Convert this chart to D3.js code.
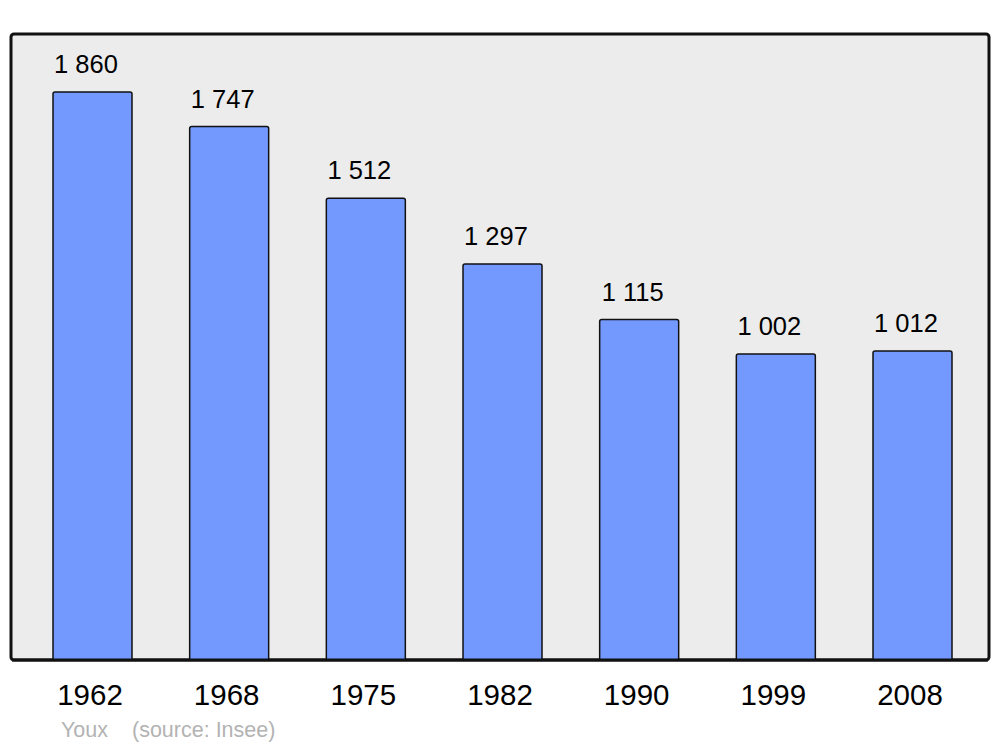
<!DOCTYPE html>
<html>
<head>
<meta charset="utf-8">
<script src="https://cdn.jsdelivr.net/npm/d3@7"></script>
<style>
  body { margin: 0; background: #fff; }
  svg text { font-family: "Liberation Sans", Arial, sans-serif; }
</style>
</head>
<body>
<div id="chart"></div>
<script>
  const years = ['1962', '1968', '1975', '1982', '1990', '1999', '2008']
  const population = [1860, 1747, 1512, 1297, 1115, 1002, 1012]
  const valueLabels = ['1 860', '1 747', '1 512', '1 297', '1 115', '1 002', '1 012']

  const width = 1000
  const height = 747
  // plot frame
  const frame = { left: 11, right: 989, top: 34, bottom: 660 }

  const svg = d3.select('#chart')
    .append('svg')
    .attr('width', width)
    .attr('height', height)

  svg.append('rect')
    .attr('x', frame.left)
    .attr('y', frame.top)
    .attr('width', frame.right - frame.left)
    .attr('height', frame.bottom - frame.top)
    .attr('rx', 3)
    .attr('fill', '#ececec')
    .attr('stroke', '#111')
    .attr('stroke-width', 3)

  const xScale = d3.scaleBand()
    .domain(years)
    .range([53, 952])
    .paddingInner(0.422)
    .paddingOuter(0)

  const yScale = d3.scaleLinear()
    .domain([0, 2050])
    .range([frame.bottom, frame.top])

  const rows = years.map((y, i) => ({ year: y, value: population[i], label: valueLabels[i] }))

  // bars with slightly rounded top corners
  svg.selectAll('path.bar')
    .data(rows)
    .enter().append('path')
    .attr('class', 'bar')
    .attr('d', d => {
      const x0 = xScale(d.year), x1 = x0 + xScale.bandwidth()
      const y0 = yScale(d.value), y1 = yScale(0), r = 2
      return `M${x0},${y1} L${x0},${y0 + r} Q${x0},${y0} ${x0 + r},${y0} L${x1 - r},${y0} Q${x1},${y0} ${x1},${y0 + r} L${x1},${y1}`
    })
    .attr('fill', '#7399ff')
    .attr('stroke', '#111')
    .attr('stroke-width', 1.5)

  // redraw bottom frame line over bars
  svg.append('line')
    .attr('x1', frame.left + 1)
    .attr('x2', frame.right - 1)
    .attr('y1', frame.bottom)
    .attr('y2', frame.bottom)
    .attr('stroke', '#111')
    .attr('stroke-width', 3)

  svg.selectAll('text.value')
    .data(rows)
    .enter().append('text')
    .attr('class', 'value')
    .attr('x', d => xScale(d.year) + xScale.bandwidth() / 2 - 6.5)
    .attr('y', d => yScale(d.value) - 19)
    .attr('text-anchor', 'middle')
    .attr('font-size', 25.5)
    .attr('fill', '#000')
    .text(d => d.label)

  svg.selectAll('text.year')
    .data(rows)
    .enter().append('text')
    .attr('class', 'year')
    .attr('x', d => xScale(d.year) + xScale.bandwidth() / 2 - 2.5)
    .attr('y', 705)
    .attr('text-anchor', 'middle')
    .attr('font-size', 29.5)
    .attr('fill', '#000')
    .text(d => d.year)

  svg.append('text')
    .attr('x', 61)
    .attr('y', 737)
    .attr('font-size', 21.5)
    .attr('fill', '#b3b3b3')
    .text('Youx')

  svg.append('text')
    .attr('x', 132)
    .attr('y', 737)
    .attr('font-size', 21.5)
    .attr('fill', '#b3b3b3')
    .text('(source: Insee)')
</script>
</body>
</html>
